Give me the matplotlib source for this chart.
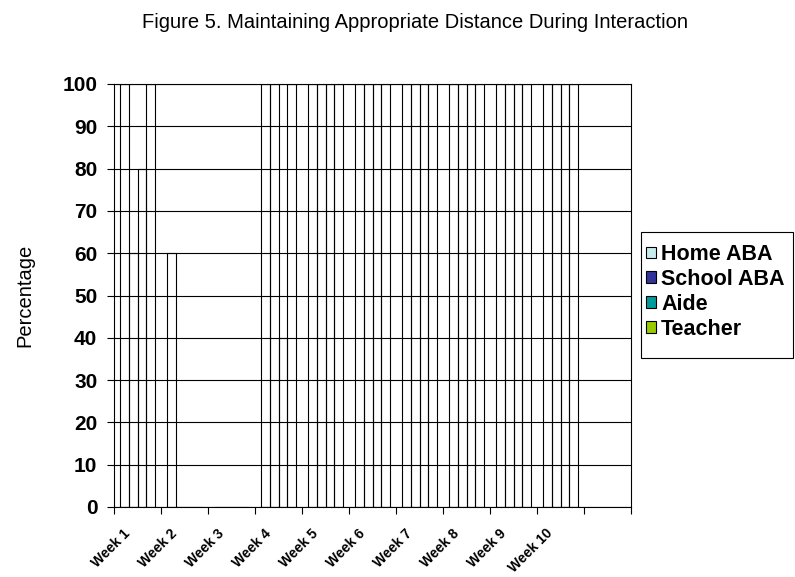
import numpy as np
import matplotlib.pyplot as plt
import matplotlib.transforms as mtransforms
from matplotlib.patches import Patch, Rectangle

plt.rcParams['font.family'] = ['Liberation Sans', 'DejaVu Sans']

weeks = ['Week 1', 'Week 2', 'Week 3', 'Week 4', 'Week 5',
         'Week 6', 'Week 7', 'Week 8', 'Week 9', 'Week 10']
n_slots = 11  # one empty category slot after Week 10

home_aba = [100, 60, 0, 100, 100, 100, 100, 100, 100, 100]
school_aba = [60, 0, 0, 100, 100, 100, 100, 100, 100, 100]
aide = [80, 0, 0, 40, 100, 100, 100, 100, 100, 100]
teacher = [100, 0, 0, 100, 100, 100, 100, 100, 100, 100]

series = [('Home ABA', home_aba, '#c6ecee'),
          ('School ABA', school_aba, '#333399'),
          ('Aide', aide, '#009a9a'),
          ('Teacher', teacher, '#99cc00')]

W, H = 795, 577
fig = plt.figure(figsize=(W/100, H/100), dpi=100)
ax = fig.add_axes([114/W, 1 - 507/H, (631 - 114)/W, (507 - 84)/H])

# clustered bars: 4 per week, gap split on both sides
gap = 0.268
width = (1 - gap) / 4
x = np.arange(len(weeks))
for k, (name, vals, col) in enumerate(series):
    ax.bar(x + gap/2 + k*width, vals, width=width, align='edge',
           facecolor='none', edgecolor='black', linewidth=0.8, zorder=3)

ax.set_xlim(0, n_slots)
ax.set_ylim(0, 100)
ax.set_yticks(range(0, 101, 10))
ax.yaxis.grid(True, color='black', linewidth=0.8)
ax.set_axisbelow(True)

ax.set_xticks(range(n_slots + 1))
ax.set_xticklabels([])
ax.set_xticks(x + 0.5, minor=True)
ax.set_xticklabels(weeks, minor=True, rotation=45, ha='right', va='top',
                   rotation_mode='anchor', fontsize=10, fontweight='bold')
ax.tick_params(axis='x', which='minor', length=0, pad=14)
ax.tick_params(axis='x', which='major', length=5, width=0.8, direction='out')
ax.tick_params(axis='y', length=5, width=0.8, pad=7, labelsize=15)
for lab in ax.get_yticklabels():
    lab.set_fontweight('bold')

# nudge the slanted week labels left
shift = mtransforms.ScaledTranslation(-15/100, 0, fig.dpi_scale_trans)
for lab in ax.get_xticklabels(minor=True):
    lab.set_transform(lab.get_transform() + shift)

for side in ['left', 'right', 'top', 'bottom']:
    ax.spines[side].set_linewidth(0.8)
    ax.spines[side].set_color('black')

fig.text(415/W, 1 - 22/H,
         'Figure 5. Maintaining Appropriate Distance During Interaction',
         ha='center', va='center', fontsize=14.5)
fig.text(25/W, 1 - 295/H, 'Percentage', rotation=90,
         ha='center', va='center', fontsize=14.5)

# legend box drawn separately so its padding can be uneven
fig.patches.append(Rectangle((641/W, 1 - 358/H), (793 - 641)/W, (358 - 232)/H,
                             transform=fig.transFigure, facecolor='white',
                             edgecolor='black', linewidth=0.8, zorder=1))
handles = [Patch(facecolor=col, edgecolor='black', linewidth=0.8, label=name)
           for name, vals, col in series]
leg = fig.legend(handles=handles, loc='upper left',
                 bbox_to_anchor=(646/W, 1 - 244/H),
                 prop={'weight': 'bold', 'size': 15.5},
                 handlelength=0.45, handleheight=0.45, handletextpad=0.25,
                 labelspacing=0.18, borderpad=0, borderaxespad=0,
                 frameon=False)
leg.set_zorder(2)

fig.savefig('out.png', dpi=100)
